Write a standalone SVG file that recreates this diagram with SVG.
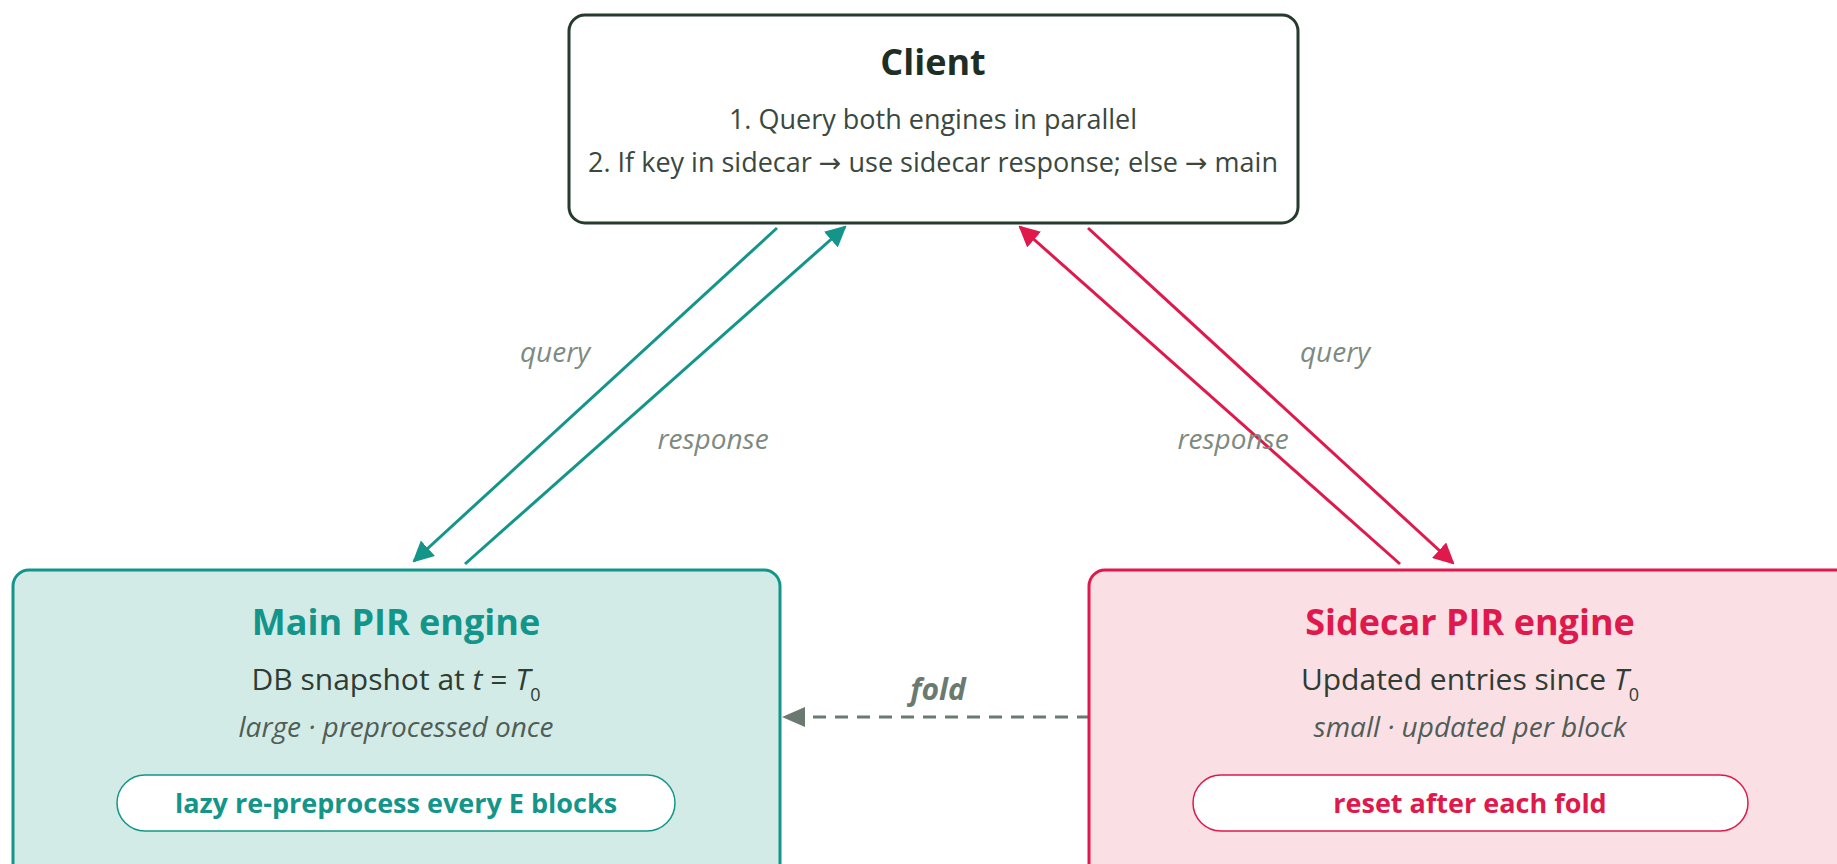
<svg xmlns="http://www.w3.org/2000/svg" width="1837" height="864" viewBox="0 0 1837 864">
  <style>
    text { font-family: "Open Sans", "Noto Sans", "DejaVu Sans", sans-serif; text-anchor: middle; }
    .title { font-weight: 700; font-size: 36px; }
    .client-title { fill: #1f2e25; }
    .main-title { fill: #14958a; }
    .side-title { fill: #e0194c; }
    .body { font-size: 27px; fill: #3a4840; }
    .desc { font-size: 30px; fill: #2f3c34; }
    .note { font-size: 28px; font-style: italic; fill: #4f5d55; }
    .pill-main { font-size: 27px; font-weight: 700; fill: #14958a; }
    .pill-side { font-size: 27px; font-weight: 700; fill: #e0194c; }
    .edge-label { font-size: 28px; font-style: italic; fill: #7c8a82; }
    .fold-label { font-size: 30px; font-style: italic; font-weight: 700; fill: #6b7a71; }
    .teal { stroke: #14958a; stroke-width: 3; fill: none; }
    .red { stroke: #e0194c; stroke-width: 3; fill: none; }
    .fold { stroke: #6b7a71; stroke-width: 3; fill: none; stroke-dasharray: 13 9; }
  </style>
  <defs>
    <marker id="arrow-teal" viewBox="0 0 10 10" refX="9" refY="5" markerWidth="7" markerHeight="7" markerUnits="strokeWidth" orient="auto">
      <path d="M0,0 L10,5 L0,10 z" fill="#14958a"/>
    </marker>
    <marker id="arrow-red" viewBox="0 0 10 10" refX="9" refY="5" markerWidth="7" markerHeight="7" markerUnits="strokeWidth" orient="auto">
      <path d="M0,0 L10,5 L0,10 z" fill="#e0194c"/>
    </marker>
  </defs>

  <rect width="1837" height="864" fill="#ffffff"/>

  <!-- connectors -->
  <g id="connectors">
    <line class="teal" x1="777" y1="228" x2="414" y2="561" marker-end="url(#arrow-teal)"/>
    <line class="teal" x1="465" y1="564" x2="845" y2="227" marker-end="url(#arrow-teal)"/>
    <line class="red" x1="1400" y1="564" x2="1020" y2="227" marker-end="url(#arrow-red)"/>
    <line class="red" x1="1088" y1="228" x2="1453" y2="563" marker-end="url(#arrow-red)"/>
    <line class="fold" x1="1090" y1="717" x2="804" y2="717"/>
    <path d="M782,717 L805,707 L805,727 z" fill="#6b7a71"/>
    <text class="edge-label" x="555" y="362">query</text>
    <text class="edge-label" x="713" y="449">response</text>
    <text class="edge-label" x="1335" y="362">query</text>
    <text class="edge-label" x="1233" y="449">response</text>
    <text class="fold-label" x="938" y="700">fold</text>
  </g>

  <!-- client node -->
  <g id="client">
    <rect x="569" y="15" width="729" height="208" rx="16" fill="#ffffff" stroke="#263a2e" stroke-width="3"/>
    <text class="title client-title" x="933" y="75">Client</text>
    <text class="body" x="933" y="129">1. Query both engines in parallel</text>
    <text class="body" x="933" y="172">2. If key in sidecar → use sidecar response; else → main</text>
  </g>

  <!-- main PIR engine node -->
  <g id="main-engine">
    <rect x="13" y="570" width="767" height="320" rx="16" fill="#d3ebe6" stroke="#14958a" stroke-width="3"/>
    <text class="title main-title" x="396" y="635">Main PIR engine</text>
    <text class="desc" x="396" y="690">DB snapshot at <tspan font-style="italic">t</tspan> = <tspan font-style="italic">T</tspan><tspan font-size="18" dy="11">0</tspan></text>
    <text class="note" x="396" y="737">large · preprocessed once</text>
    <rect x="117" y="775" width="558" height="56" rx="28" fill="#ffffff" stroke="#14958a" stroke-width="1.5"/>
    <text class="pill-main" x="396" y="813">lazy re-preprocess every E blocks</text>
  </g>

  <!-- sidecar PIR engine node -->
  <g id="sidecar-engine">
    <rect x="1089" y="570" width="767" height="320" rx="16" fill="#fadfe4" stroke="#e0194c" stroke-width="3"/>
    <text class="title side-title" x="1470" y="635">Sidecar PIR engine</text>
    <text class="desc" x="1470" y="690">Updated entries since <tspan font-style="italic">T</tspan><tspan font-size="18" dy="11">0</tspan></text>
    <text class="note" x="1470" y="737">small · updated per block</text>
    <rect x="1193" y="775" width="555" height="56" rx="28" fill="#ffffff" stroke="#e0194c" stroke-width="1.5"/>
    <text class="pill-side" x="1470" y="813">reset after each fold</text>
  </g>
</svg>
